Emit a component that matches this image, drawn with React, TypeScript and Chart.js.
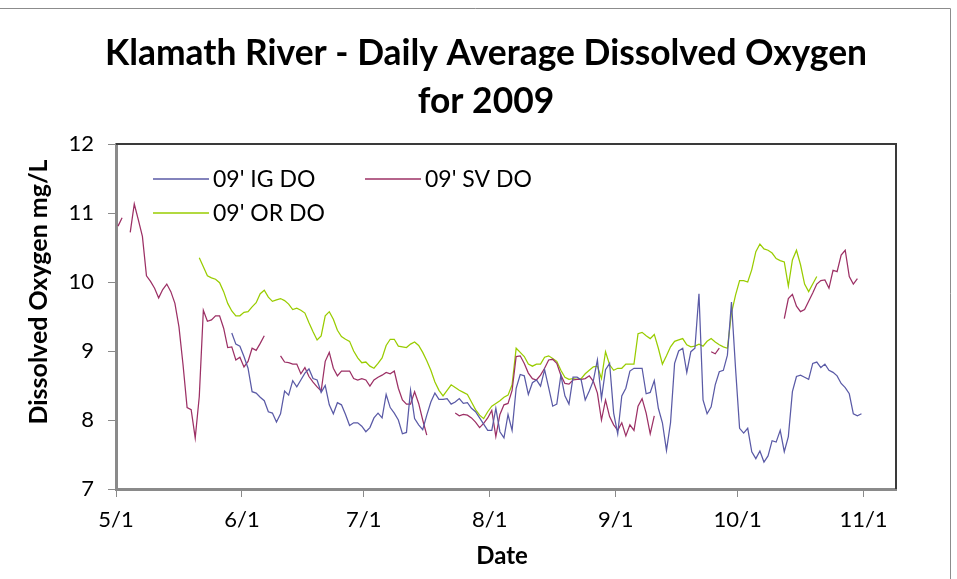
import React, { useEffect, useRef } from "react";
import { Chart, registerables } from "chart.js";

Chart.register(...registerables);

const FONT = "Lato, 'Noto Sans', sans-serif";

const titleLines = ["Klamath River - Daily Average Dissolved Oxygen", "for 2009"];
const xTitle = "Date";
const yTitle = "Dissolved Oxygen mg/L";

// day index 0 = 5/1/2009
const monthDays = [0, 31, 61, 92, 123, 153, 184];
const monthLabels = ["5/1", "6/1", "7/1", "8/1", "9/1", "10/1", "11/1"];
const yTicks = [7, 8, 9, 10, 11, 12];

const seriesNames = ["09' IG DO", "09' SV DO", "09' OR DO"];

// 09' IG DO, starting 5/29 (day 28)
const igStart = 28;
const igValues = [
  9.26, 9.10, 9.07, 8.92, 8.75,
  8.41, 8.39, 8.33, 8.28, 8.12,
  8.10, 7.97, 8.09, 8.42, 8.36,
  8.57, 8.48, 8.58, 8.68, 8.74,
  8.60, 8.58, 8.40, 8.50, 8.22,
  8.09, 8.25, 8.22, 8.08, 7.92,
  7.96, 7.96, 7.91, 7.83, 7.89,
  8.03, 8.10, 8.03, 8.37, 8.18,
  8.10, 8.00, 7.80, 7.82, 8.43,
  8.02, 7.93, 7.86, 8.07, 8.26,
  8.39, 8.30, 8.30, 8.31, 8.23,
  8.26, 8.31, 8.24, 8.25, 8.17,
  8.12, 8.03, 7.94, 7.85, 7.85,
  8.17, 7.83, 7.74, 8.08, 7.85,
  8.46, 8.66, 8.64, 8.37, 8.54,
  8.58, 8.49, 8.73, 8.47, 8.20,
  8.23, 8.65, 8.35, 8.23, 8.62,
  8.62, 8.58, 8.29, 8.42, 8.57,
  8.87, 8.31, 8.73, 8.82, 8.10,
  7.80, 8.35, 8.46, 8.71, 8.75,
  8.75, 8.75, 8.38, 8.40, 8.57,
  8.17, 7.96, 7.56, 7.96, 8.82,
  9.00, 9.04, 8.69, 8.99, 9.04,
  9.83, 8.29, 8.09, 8.19, 8.51,
  8.70, 8.72, 8.94, 9.71, 8.75,
  7.88, 7.81, 7.88, 7.54, 7.44,
  7.55, 7.39, 7.48, 7.70, 7.68,
  7.85, 7.54, 7.76, 8.41, 8.63,
  8.65, 8.62, 8.59, 8.82, 8.84,
  8.76, 8.81, 8.72, 8.69, 8.64,
  8.53, 8.47, 8.38, 8.09, 8.06,
  8.09,
];

// 09' SV DO, starting 5/1 (day 0); null = no data
const svStart = 0;
const svValues = [
  10.81, 10.93, null, 10.72, 11.13,
  10.90, 10.66, 10.09, 10.01, 9.91,
  9.77, 9.89, 9.97, 9.86, 9.69,
  9.35, 8.80, 8.18, 8.15, 7.74,
  8.34, 9.59, 9.43, 9.45, 9.51,
  9.51, 9.33, 9.05, 9.06, 8.87,
  8.91, 8.77, 8.85, 9.04, 9.01,
  9.11, 9.22, null, null, null,
  8.93, 8.84, 8.83, 8.81, 8.81,
  8.67, 8.76, 8.63, 8.55, 8.48,
  8.42, 8.85, 8.98, 8.75, 8.64,
  8.71, 8.71, 8.71, 8.60, 8.58,
  8.60, 8.58, 8.49, 8.58, 8.62,
  8.65, 8.69, 8.67, 8.71, 8.46,
  8.29, 8.23, 8.23, 8.41, 8.24,
  8.00, 7.78, null, null, null,
  null, null, null, 8.10, 8.06,
  8.08, 8.07, 8.03, 7.97, 7.89,
  7.95, 8.03, 8.14, 7.76, 8.08,
  8.22, 8.24, 8.43, 8.92, 8.93,
  8.82, 8.68, 8.60, 8.58, 8.65,
  8.75, 8.87, 8.88, 8.82, 8.65,
  8.53, 8.52, 8.58, 8.59, 8.59,
  8.60, 8.64, 8.56, 8.39, 8.00,
  8.29, 8.05, 7.93, 7.85, 7.96,
  7.77, 7.93, 7.85, 8.20, 8.31,
  8.10, 7.80, 8.06, null, null,
  null, null, null, null, null,
  null, null, null, null, null,
  null, 8.99, 8.96, 9.04, null,
  null, null, null, null, null,
  null, null, null, null, null,
  null, null, null, null, 9.47,
  9.76, 9.82, 9.65, 9.57, 9.60,
  9.72, 9.84, 9.97, 10.02, 10.03,
  9.91, 10.17, 10.15, 10.39, 10.46,
  10.08, 9.97, 10.05,
];

// 09' OR DO, starting 5/21 (day 20)
const orStart = 20;
const orValues = [
  10.35, 10.22, 10.09, 10.06, 10.04,
  9.99, 9.86, 9.69, 9.58, 9.51,
  9.51, 9.56, 9.57, 9.64, 9.70,
  9.83, 9.88, 9.78, 9.72, 9.74,
  9.76, 9.73, 9.68, 9.60, 9.62,
  9.59, 9.55, 9.41, 9.28, 9.16,
  9.22, 9.51, 9.57, 9.46, 9.30,
  9.21, 9.17, 9.14, 9.00, 8.90,
  8.83, 8.84, 8.78, 8.75, 8.82,
  8.90, 9.08, 9.17, 9.17, 9.07,
  9.06, 9.05, 9.10, 9.13, 9.08,
  8.98, 8.86, 8.72, 8.55, 8.43,
  8.35, 8.43, 8.51, 8.47, 8.43,
  8.40, 8.37, 8.26, 8.15, 8.07,
  8.02, 8.12, 8.20, 8.24, 8.28,
  8.33, 8.36, 8.51, 9.04, 8.98,
  8.92, 8.81, 8.78, 8.81, 8.81,
  8.91, 8.93, 8.89, 8.85, 8.72,
  8.62, 8.59, 8.60, 8.59, 8.60,
  8.67, 8.72, 8.77, 8.78, 8.60,
  8.99, 8.80, 8.72, 8.75, 8.75,
  8.81, 8.81, 8.81, 9.25, 9.27,
  9.22, 9.18, 9.24, 9.04, 8.81,
  8.93, 9.06, 9.14, 9.16, 9.18,
  9.09, 9.06, 9.07, 9.10, 9.07,
  9.14, 9.18, 9.13, 9.09, 9.06,
  9.04, 9.55, 9.81, 10.02, 10.02,
  10.00, 10.18, 10.44, 10.55, 10.48,
  10.46, 10.42, 10.34, 10.31, 10.29,
  9.94, 10.32, 10.46, 10.25, 9.97,
  9.86, 9.97, 10.08,
];

const colors = ["#5a5aa6", "#9c3065", "#99cc00"];

// each daily value is plotted at the middle of its day (Excel "between tick marks")
function toPoints(start: number, values: (number | null)[]) {
  return values.map((v, i) => ({ x: start + i + 0.5, y: v }));
}

const decor = {
  id: "decor",
  afterDraw(chart: any) {
    const { ctx, chartArea: a } = chart;
    ctx.save();
    // outer chart frame
    ctx.strokeStyle = "#8c8c8c";
    ctx.lineWidth = 1;
    ctx.beginPath();
    ctx.moveTo(0, 8.5);
    ctx.lineTo(950.5, 8.5);
    ctx.lineTo(950.5, 579);
    ctx.stroke();

    // plot area border (top and right)
    ctx.strokeStyle = "#3a3a3a";
    ctx.lineWidth = 2;
    ctx.beginPath();
    ctx.moveTo(a.left, a.top);
    ctx.lineTo(a.right, a.top);
    ctx.lineTo(a.right, a.bottom);
    ctx.stroke();

    // title
    ctx.fillStyle = "#000";
    ctx.textAlign = "center";
    ctx.textBaseline = "alphabetic";
    ctx.font = `bold 35.4px ${FONT}`;
    ctx.fillText(titleLines[0], 486, 65);
    ctx.fillText(titleLines[1], 486, 113);

    // axis titles
    ctx.font = `bold 24px ${FONT}`;
    ctx.textBaseline = "middle";
    ctx.fillText(xTitle, 502, 556);
    ctx.save();
    ctx.translate(39, 292);
    ctx.rotate(-Math.PI / 2);
    ctx.font = `bold 25px ${FONT}`;
    ctx.fillText(yTitle, 0, 0);
    ctx.restore();

    // legend inside plot area
    const rows = [
      { x: 153, y: 179, i: 0 },
      { x: 365, y: 179, i: 1 },
      { x: 153, y: 213, i: 2 },
    ];
    ctx.font = `23px ${FONT}`;
    ctx.textAlign = "left";
    rows.forEach((r) => {
      ctx.strokeStyle = colors[r.i];
      ctx.lineWidth = 1.3;
      ctx.beginPath();
      ctx.moveTo(r.x, r.y);
      ctx.lineTo(r.x + 56, r.y);
      ctx.stroke();
      ctx.fillStyle = "#000";
      ctx.fillText(seriesNames[r.i], r.x + 60, r.y + 1);
    });
    ctx.restore();
  },
};

export default function App() {
  const ref = useRef<HTMLCanvasElement>(null);
  useEffect(() => {
    const canvas = ref.current;
    if (!canvas) return;
    const tickFont = { family: FONT, size: 22 };
    const axisGrid = {
      drawOnChartArea: false,
      drawTicks: true,
      tickLength: 8,
      color: "#8a8a8a",
      lineWidth: 1,
    };
    const axisBorder = { display: true, color: "#8a8a8a", width: 3 };
    const chart = new Chart(canvas, {
      type: "line",
      data: {
        datasets: [
          { label: seriesNames[0], data: toPoints(igStart, igValues), borderColor: colors[0] },
          { label: seriesNames[1], data: toPoints(svStart, svValues), borderColor: colors[1] },
          { label: seriesNames[2], data: toPoints(orStart, orValues), borderColor: colors[2] },
        ],
      },
      options: {
        responsive: false,
        maintainAspectRatio: false,
        animation: false,
        layout: { padding: { left: 0, top: 144, right: 61, bottom: 0 } },
        elements: {
          point: { radius: 0, hoverRadius: 0 },
          line: { borderWidth: 1.25, tension: 0, fill: false },
        },
        plugins: {
          legend: { display: false },
          title: { display: false },
          tooltip: { enabled: false },
        },
        scales: {
          x: {
            type: "linear",
            min: 0,
            max: 192,
            afterBuildTicks: (s: any) => {
              s.ticks = monthDays.map((v) => ({ value: v }));
            },
            afterFit: (s: any) => {
              s.height = 90;
            },
            ticks: {
              autoSkip: false,
              maxRotation: 0,
              minRotation: 0,
              padding: 10,
              color: "#000",
              font: tickFont,
              callback: (v: any) => {
                const i = monthDays.indexOf(Number(v));
                return i >= 0 ? monthLabels[i] : "";
              },
            },
            grid: axisGrid,
            border: axisBorder,
          },
          y: {
            min: 7,
            max: 12,
            afterBuildTicks: (s: any) => {
              s.ticks = yTicks.map((v) => ({ value: v }));
            },
            afterFit: (s: any) => {
              s.width = 116;
            },
            ticks: { padding: 14, color: "#000", font: tickFont },
            grid: axisGrid,
            border: axisBorder,
          },
        },
      },
      plugins: [decor],
    } as any);
    return () => chart.destroy();
  }, []);
  return (
    <div style={{ position: "absolute", left: 0, top: 0, width: 957, height: 579, background: "#fff" }}>
      <canvas ref={ref} width={957} height={579} style={{ display: "block" }} />
    </div>
  );
}
